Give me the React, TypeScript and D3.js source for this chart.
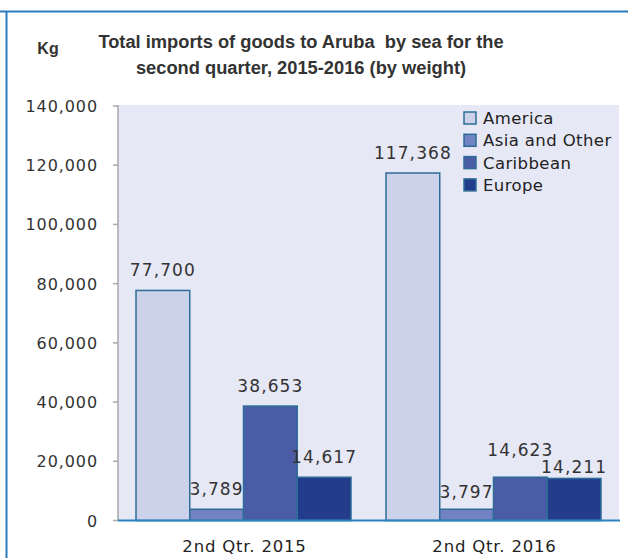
import React from 'react';
import * as d3 from 'd3';

const quarters = ['2nd Qtr. 2015', '2nd Qtr. 2016'];
const regions = ['America', 'Asia and Other', 'Caribbean', 'Europe'];
const america = [77700, 117368];
const asiaOther = [3789, 3797];
const caribbean = [38653, 14623];
const europe = [14617, 14211];
const yTicks = [0, 20000, 40000, 60000, 80000, 100000, 120000, 140000];

const colors = ['#cdd2eb', '#7283c4', '#4a5ca6', '#233c8c'];
const seriesValues = [america, asiaOther, caribbean, europe];

// how far above its bar each value label sits (px), as placed in the original
const labelGap: Record<string, number> = {
  '2nd Qtr. 2016|Caribbean': 21,
  '2nd Qtr. 2016|Europe': 5,
  '2nd Qtr. 2016|Asia and Other': 11,
};

const W = 628;
const H = 558;
const numFont = '"DejaVu Sans", Verdana, sans-serif';
const titleFont = '"Liberation Sans", Arial, sans-serif';

export default function App() {
  const left = 118;
  const right = 619;
  const top = 106;
  const bottom = 520.5;

  const x0 = d3.scaleBand().domain(quarters).range([left, right])
    .paddingInner(0.14).paddingOuter(0.072);
  const x1 = d3.scaleBand().domain(regions).range([0, x0.bandwidth()]);
  const y = d3.scaleLinear().domain([0, 140000]).range([bottom, top]);
  const fmt = d3.format(',');

  const bars = quarters.flatMap((q, qi) =>
    regions.map((r, ri) => ({ q, r, ri, value: seriesValues[ri][qi] })));

  return (
    <svg width={W} height={H} style={{ position: 'fixed', left: 0, top: 0 }}>
      <rect x={0} y={0} width={W} height={H} fill="#ffffff" />
      {/* frame lines */}
      <line x1={0} x2={W} y1={11.5} y2={11.5} stroke="#2b7cbf" strokeWidth={2} />
      <line x1={6.5} x2={6.5} y1={11} y2={H} stroke="#2b7cbf" strokeWidth={2} />

      {/* title */}
      <text x={48} y={53.5} textAnchor="middle" fontFamily={titleFont} fontWeight="bold"
        fontSize={16} fill="#333">Kg</text>
      <text textAnchor="middle" fontFamily={titleFont} fontWeight="bold" fontSize={18.3}
        fill="#333" style={{ whiteSpace: 'pre' }}>
        <tspan x={301} y={47.5}>Total imports of goods to Aruba  by sea for the</tspan>
        <tspan x={301} y={73.5}>second quarter, 2015-2016 (by weight)</tspan>
      </text>

      {/* plot area */}
      <rect x={left} y={105} width={right - left} height={bottom - 105} fill="#e6e8f5" />

      {/* y axis */}
      <line x1={left} x2={left} y1={105} y2={bottom} stroke="#a8a8a8" strokeWidth={1.5} />
      {yTicks.map((t) => (
        <g key={t}>
          <line x1={left - 5} x2={left} y1={y(t)} y2={y(t)} stroke="#a8a8a8" strokeWidth={1.5} />
          <text x={98} y={y(t) + 6} textAnchor="end" fontFamily={numFont} fontSize={16}
            letterSpacing={0.9} fill="#333">{fmt(t)}</text>
        </g>
      ))}

      {/* bars */}
      {bars.map((b) => {
        const bx = (x0(b.q) as number) + (x1(b.r) as number);
        const gap = labelGap[b.q + '|' + b.r] ?? 14;
        return (
          <g key={b.q + b.r}>
            <rect x={bx} y={y(b.value)} width={x1.bandwidth()} height={bottom - y(b.value)}
              fill={colors[b.ri]} stroke="#2e6c97" strokeWidth={1.5} />
            <text x={bx + x1.bandwidth() / 2} y={y(b.value) - gap} textAnchor="middle"
              fontFamily={numFont} fontSize={17} letterSpacing={1.1} fill="#333">{fmt(b.value)}</text>
          </g>
        );
      })}

      {/* baseline */}
      <line x1={left} x2={right + 1} y1={bottom} y2={bottom} stroke="#2b82c0" strokeWidth={2} />

      {/* x labels */}
      {quarters.map((q) => (
        <text key={q} x={(x0(q) as number) + x0.bandwidth() / 2 + 1} y={552} textAnchor="middle"
          fontFamily={numFont} fontSize={16.5} letterSpacing={0.8} fill="#222">{q}</text>
      ))}

      {/* legend */}
      {regions.map((r, i) => (
        <g key={r} transform={`translate(464, ${112 + i * 22.3})`}>
          <rect x={0} y={0} width={12} height={12} fill={colors[i]} stroke="#2e6c97" strokeWidth={1.5} />
          <text x={19} y={12} fontFamily={numFont} fontSize={16.5} letterSpacing={0.4} fill="#222">{r}</text>
        </g>
      ))}
    </svg>
  );
}
